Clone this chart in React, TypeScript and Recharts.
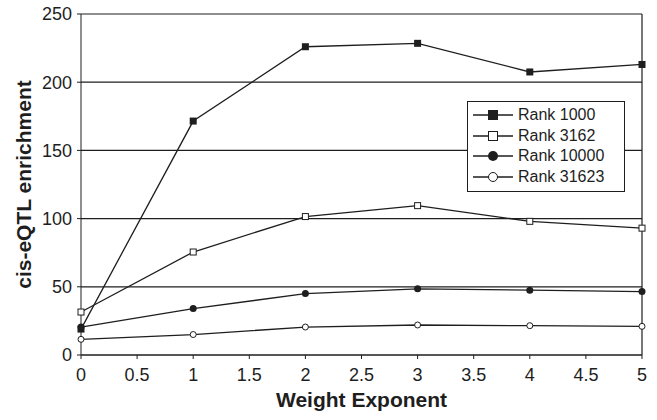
import { LineChart, Line, XAxis, YAxis, CartesianGrid, Legend, ReferenceLine, Label } from 'recharts';

const exponents = [0, 1, 2, 3, 4, 5];
const rank1000 = [19, 171.5, 226, 228.5, 207.5, 213];
const rank3162 = [31.5, 75.5, 101.5, 109.5, 98, 93];
const rank10000 = [20.5, 34, 45, 48.5, 47.5, 46.5];
const rank31623 = [11.5, 15, 20.5, 22, 21.5, 21];

const xTicks = [0, 0.5, 1, 1.5, 2, 2.5, 3, 3.5, 4, 4.5, 5];
const yTicks = [0, 50, 100, 150, 200, 250];

const data = exponents.map((x, i) => ({
  x,
  r1000: rank1000[i],
  r3162: rank3162[i],
  r10000: rank10000[i],
  r31623: rank31623[i],
}));

const INK = '#1e1e1e';
const FONT = '"Liberation Sans", Arial, sans-serif';

type Shape = 'fsquare' | 'osquare' | 'fcircle' | 'ocircle';

const series: { key: string; name: string; shape: Shape }[] = [
  { key: 'r1000', name: 'Rank 1000', shape: 'fsquare' },
  { key: 'r3162', name: 'Rank 3162', shape: 'osquare' },
  { key: 'r10000', name: 'Rank 10000', shape: 'fcircle' },
  { key: 'r31623', name: 'Rank 31623', shape: 'ocircle' },
];

function Marker({ shape, cx, cy, big }: { shape: Shape; cx: number; cy: number; big?: boolean }) {
  const s = big ? 5 : 3.5;
  if (shape === 'fsquare') return <rect x={cx - s} y={cy - s} width={s * 2} height={s * 2} fill={INK} />;
  if (shape === 'osquare') return <rect x={cx - s + 0.5} y={cy - s + 0.5} width={s * 2 - 1} height={s * 2 - 1} fill="#fff" stroke={INK} strokeWidth={1} />;
  if (shape === 'fcircle') return <circle cx={cx} cy={cy} r={s} fill={INK} />;
  return <circle cx={cx} cy={cy} r={s - 0.5} fill="#fff" stroke={INK} strokeWidth={1} />;
}

const dotFor = (shape: Shape) => (props: any) => (
  <Marker key={`${shape}-${props.index}`} shape={shape} cx={props.cx} cy={props.cy} />
);

function LegendBox() {
  return (
    <div style={{ border: `1px solid ${INK}`, background: '#fff', padding: '3px 20px 4px 5px', fontFamily: FONT, fontSize: 16, color: INK }}>
      {series.map((s) => (
        <div key={s.key} style={{ display: 'flex', alignItems: 'center', height: 20.5 }}>
          <svg width={40} height={14} style={{ marginRight: 5 }}>
            <line x1={0} y1={7} x2={40} y2={7} stroke={INK} strokeWidth={1.3} />
            <Marker shape={s.shape} cx={20} cy={7} big />
          </svg>
          <span>{s.name}</span>
        </div>
      ))}
    </div>
  );
}

export default function App() {
  return (
    <div style={{ position: 'absolute', left: 0, top: 0, background: '#fff' }}>
      <LineChart width={657} height={420} data={data} margin={{ top: 14, right: 15, bottom: 0, left: 0 }}>
        <CartesianGrid vertical={false} stroke={INK} strokeWidth={1.2} />
        <XAxis
          type="number"
          dataKey="x"
          domain={[0, 5]}
          ticks={xTicks}
          interval={0}
          height={65}
          stroke={INK}
          tickSize={4}
          tickMargin={9}
          tick={{ fill: INK, fontSize: 18, fontFamily: FONT }}
        >
          <Label value="Weight Exponent" position="insideBottom" offset={13} style={{ fontSize: 21, fontWeight: 'bold', fontFamily: FONT, fill: INK }} />
        </XAxis>
        <YAxis
          type="number"
          domain={[0, 250]}
          ticks={yTicks}
          interval={0}
          width={81}
          stroke={INK}
          tickSize={4}
          tickMargin={5}
          tick={{ fill: INK, fontSize: 18, fontFamily: FONT }}
        >
          <Label value="cis-eQTL enrichment" angle={-90} position="center" dx={-17} style={{ fontSize: 21, fontWeight: 'bold', fontFamily: FONT, fill: INK, textAnchor: 'middle' }} />
        </YAxis>
        <ReferenceLine x={5} stroke={INK} strokeWidth={1.2} />
        <Legend
          layout="horizontal"
          verticalAlign="middle"
          align="center"
          content={<LegendBox />}
          wrapperStyle={{ left: 467, top: 101, width: 'auto' }}
        />
        {series.map((s) => (
          <Line
            key={s.key}
            type="linear"
            dataKey={s.key}
            name={s.name}
            stroke={INK}
            strokeWidth={1.3}
            dot={dotFor(s.shape)}
            activeDot={false}
            isAnimationActive={false}
          />
        ))}
      </LineChart>
    </div>
  );
}
